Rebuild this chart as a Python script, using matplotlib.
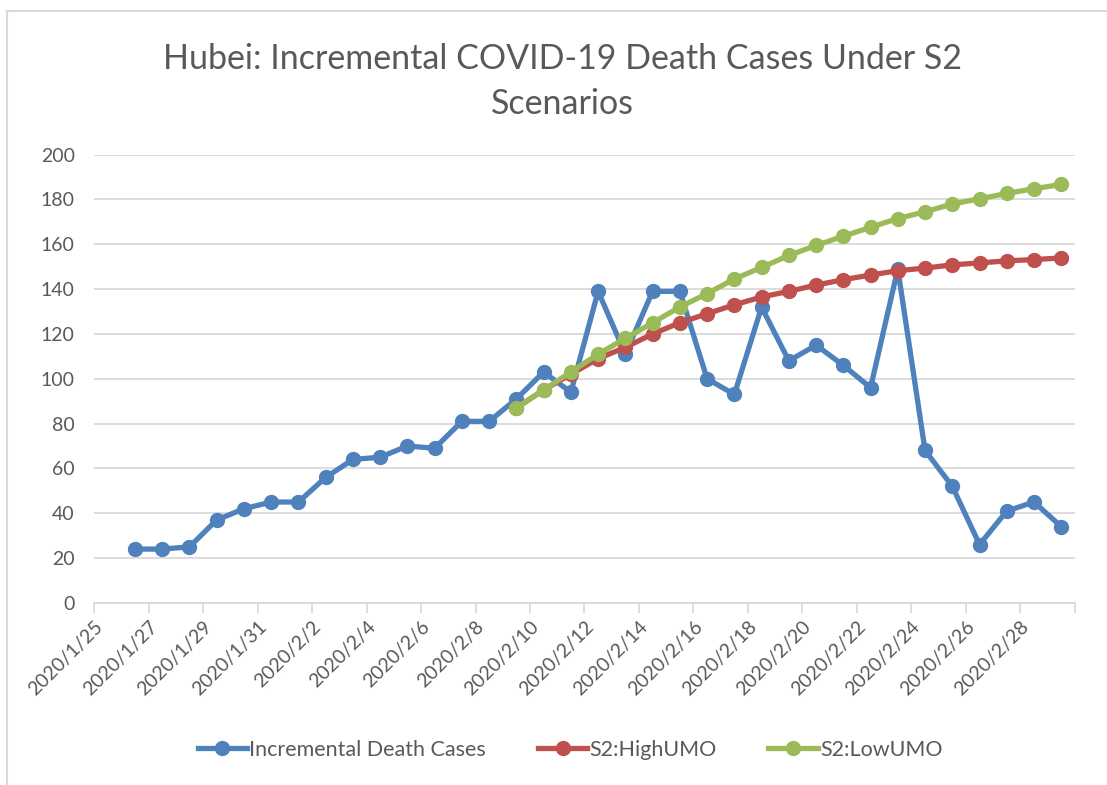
import matplotlib.pyplot as plt
import pandas as pd
from matplotlib.lines import Line2D

# Daten
TAGE = pd.date_range('2020-01-26', '2020-02-29', freq='D')
TODESFAELLE = [24, 24, 25, 37, 42, 45, 45, 56, 64, 65, 70, 69, 81, 81, 91,
               103, 94, 139, 111, 139, 139, 100, 93, 132, 108, 115, 106, 96,
               149, 68, 52, 26, 41, 45, 34]

SZEN_TAGE = pd.date_range('2020-02-09', '2020-02-29', freq='D')
HIGH_UMO = [87, 95, 102, 109, 114, 120, 125, 129, 133, 136.5, 139, 141.8,
            144.2, 146.3, 148.2, 149.4, 150.8, 151.7, 152.6, 153.2, 153.9]
LOW_UMO = [87, 95, 103, 111, 118, 125, 132, 138, 144.5, 149.7, 155, 159.5,
           163.6, 167.6, 171.5, 174.5, 178, 180.3, 182.7, 184.8, 186.7]

TICK_TAGE = pd.date_range('2020-01-25', '2020-03-01', freq='2D')

GRAU = '#595959'
LINIE = '#D9D9D9'
FARBEN = ['#4F81BD', '#C0504D', '#9BBB59']
NAMEN = ['Incremental Death Cases', 'S2:HighUMO', 'S2:LowUMO']

plt.rcParams['font.family'] = ['Lato', 'DejaVu Sans']

fig = plt.figure(figsize=(11.07, 7.85), dpi=100)
ax = fig.add_axes([0.085, 0.232, 0.886, 0.571])

# Punkte liegen in der Mitte des Tages
halb = pd.Timedelta(hours=12)
ax.plot(TAGE + halb, TODESFAELLE, color=FARBEN[0], lw=3.8, marker='o',
        ms=10, label=NAMEN[0], zorder=3)
ax.plot(SZEN_TAGE + halb, HIGH_UMO, color=FARBEN[1], lw=3.8, marker='o',
        ms=10, label=NAMEN[1], zorder=4)
ax.plot(SZEN_TAGE + halb, LOW_UMO, color=FARBEN[2], lw=3.8, marker='o',
        ms=10, label=NAMEN[2], zorder=5)

ax.set_xlim(TICK_TAGE[0], pd.Timestamp('2020-03-01'))
ax.set_ylim(0, 200)
ax.set_yticks(range(0, 201, 20))
ax.set_xticks(TICK_TAGE)
ax.set_xticklabels([f'{d.year}/{d.month}/{d.day}' if d.month < 3 else ''
                    for d in TICK_TAGE], rotation=45, ha='right',
                   rotation_mode='anchor')

ax.grid(axis='y', color=LINIE, lw=1.3)
ax.set_axisbelow(True)
for s in ['top', 'right', 'left']:
    ax.spines[s].set_visible(False)
ax.spines['bottom'].set_color(LINIE)
ax.spines['bottom'].set_linewidth(1.3)
ax.tick_params(axis='y', length=0, labelsize=14, labelcolor=GRAU, pad=14)
ax.tick_params(axis='x', length=7, color=LINIE, width=1.3, labelsize=14,
               labelcolor=GRAU, pad=4)

fig.text(0.508, 1 - 43 / 785,
         'Hubei: Incremental COVID-19 Death Cases Under S2\nScenarios',
         ha='center', va='top', fontsize=24.5, color=GRAU,
         linespacing=1.5)

fig.legend(loc='center', bbox_to_anchor=(0.515, 0.045), ncol=3,
           frameon=False, fontsize=15.5, labelcolor=GRAU, handlelength=2.3,
           handletextpad=0.1, columnspacing=2.4)

# Rahmen
fig.add_artist(Line2D([7 / 1107, 7 / 1107], [0, 1 - 11 / 785],
                      transform=fig.transFigure, color=LINIE, lw=1.5))
fig.add_artist(Line2D([7 / 1107, 1], [1 - 11 / 785, 1 - 11 / 785],
                      transform=fig.transFigure, color=LINIE, lw=1.5))

fig.savefig('out.png', dpi=100)
